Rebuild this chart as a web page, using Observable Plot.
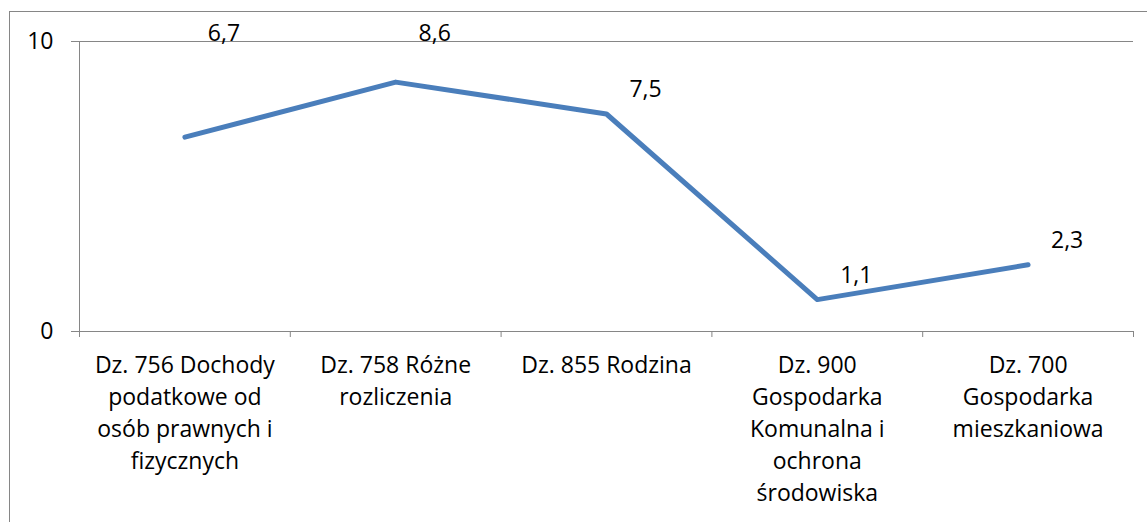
<!DOCTYPE html>
<html>
<head>
<meta charset="utf-8">
<script src="https://cdn.jsdelivr.net/npm/d3@7"></script>
<script src="https://cdn.jsdelivr.net/npm/@observablehq/plot@0.6"></script>
<style>
  html, body { margin: 0; padding: 0; background: #fff; overflow: hidden; }
  #wrap { position: relative; width: 1147px; height: 522px; }
  #frame { position: absolute; left: 9px; top: 11px; width: 2000px; height: 2000px;
           border-left: 1px solid #868686; border-top: 1px solid #868686; }
  #chart { position: absolute; left: 0; top: 0; }
</style>
</head>
<body>
<div id="wrap"><div id="frame"></div><div id="chart"></div></div>
<script>
const categories = [
  "Dz. 756 Dochody podatkowe od osób prawnych i fizycznych",
  "Dz. 758 Różne rozliczenia",
  "Dz. 855 Rodzina",
  "Dz. 900 Gospodarka Komunalna i ochrona środowiska",
  "Dz. 700 Gospodarka mieszkaniowa"
];
const tickLabels = [
  "Dz. 756 Dochody\npodatkowe od\nosób prawnych i\nfizycznych",
  "Dz. 758 Różne\nrozliczenia",
  "Dz. 855 Rodzina",
  "Dz. 900\nGospodarka\nKomunalna i\nochrona\nśrodowiska",
  "Dz. 700\nGospodarka\nmieszkaniowa"
];
const values = [6.7, 8.6, 7.5, 1.1, 2.3];
const yTicks = [0, 10];

const data = categories.map((c, i) => ({category: c, label: tickLabels[i], value: values[i], pos: i + 0.5}));
const grey = "#868686";
const fmt = v => v.toFixed(1).replace(".", ",");
// In the original, the first two data labels were dragged up to the top of the plot area
const movedToTop = new Set([0, 1]);

const chart = Plot.plot({
  width: 1147,
  height: 522,
  marginLeft: 79,
  marginRight: 14,
  marginTop: 41,
  marginBottom: 191,
  style: {fontFamily: "'Open Sans', sans-serif", fontSize: "23px", color: "#000", background: "transparent"},
  x: {type: "linear", domain: [0, categories.length], axis: null},
  y: {domain: [0, 10], axis: null},
  marks: [
    Plot.ruleY([10], {stroke: grey, strokeWidth: 1}),
    Plot.ruleY([0], {stroke: grey, strokeWidth: 1}),
    Plot.ruleX([0], {stroke: grey, strokeWidth: 1}),
    Plot.axisY({ticks: yTicks, tickSize: 8, tickPadding: 18, stroke: grey, label: null, tickFormat: d => String(d)}),
    Plot.axisX({ticks: d3.range(categories.length + 1), tickSize: 6, tickFormat: () => "", stroke: grey, label: null}),
    Plot.text(data, {x: "pos", y: 0, text: "label", lineAnchor: "top", lineHeight: 1.39, dy: 19, fill: "#000"}),
    Plot.line(data, {x: "pos", y: "value", stroke: "#4A7EBB", strokeWidth: 5, strokeLinecap: "round", strokeLinejoin: "round"}),
    Plot.text(data, {x: "pos", y: (d, i) => movedToTop.has(i) ? 9.45 : d.value, text: d => fmt(d.value), dx: 39, dy: -24, fill: "#000"})
  ]
});
document.getElementById("chart").appendChild(chart);
</script>
</body>
</html>
